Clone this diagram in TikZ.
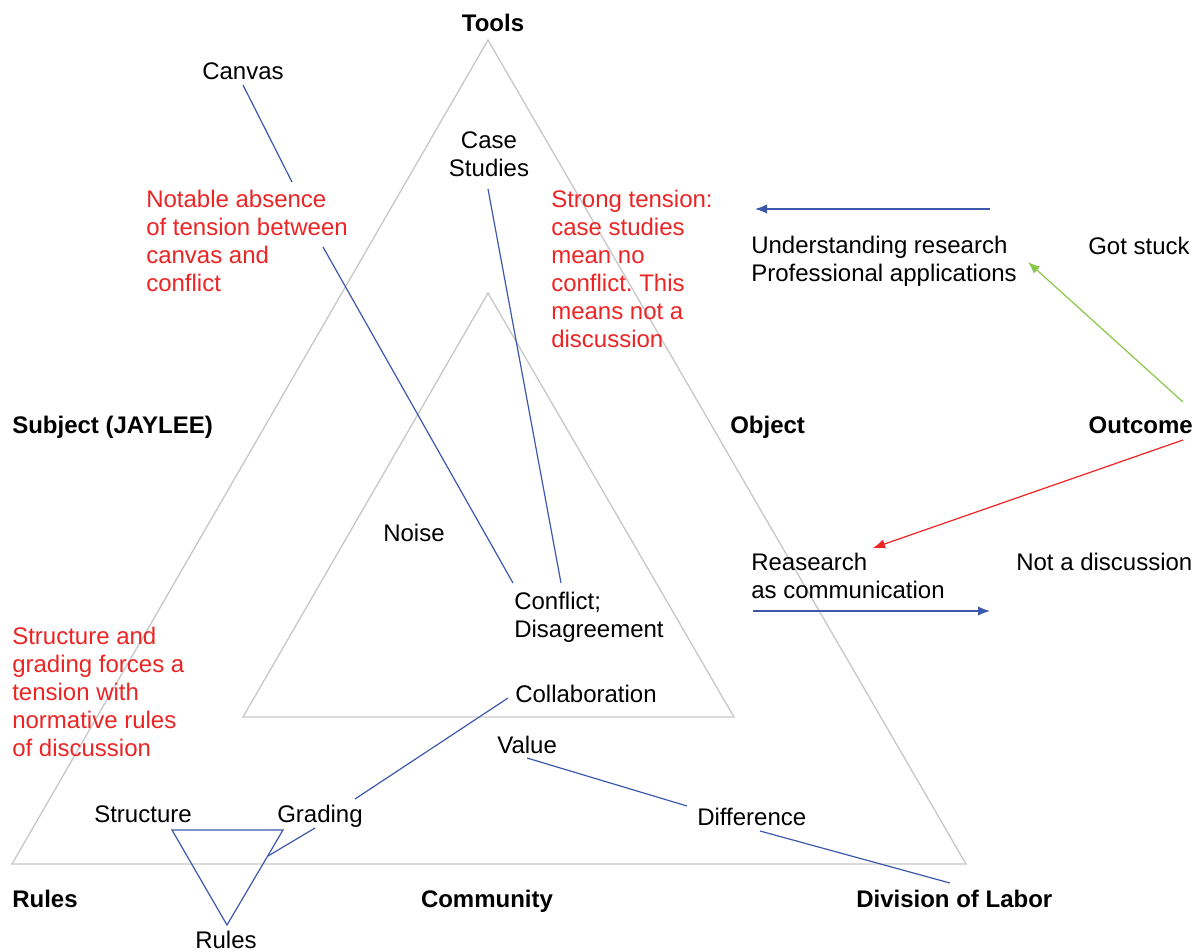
\documentclass[tikz,border=0pt]{standalone}
\usepackage{fontspec}
\setmainfont{Liberation Sans}
\usetikzlibrary{arrows.meta}
\frenchspacing
\definecolor{framegray}{RGB}{200,200,200}
\definecolor{linkblue}{RGB}{60,88,172}
\definecolor{notered}{RGB}{236,36,36}
\definecolor{limegreen}{RGB}{138,198,72}
\begin{document}
\begin{tikzpicture}[x=0.75pt,y=-0.75pt,
  lbl/.style={inner sep=0pt, font=\fontsize{18}{21}\selectfont, text=black},
  head/.style={inner sep=0pt, font=\fontsize{18}{21}\selectfont\bfseries, text=black},
  block/.style={lbl, align=left, anchor=north west},
  remark/.style={lbl, text=notered, align=left, anchor=north west},
  frameline/.style={draw=framegray, line width=1pt},
  tie/.style={draw=linkblue, line width=0.9pt},
  flow/.style={line width=0.9pt}
]
\useasboundingbox (0,0) rectangle (1197,951);

% activity-system triangles
\coordinate (outerTop) at (488,40);
\coordinate (outerLeft) at (12,864);
\coordinate (outerRight) at (966,864);
\coordinate (innerTop) at (488,293);
\coordinate (innerLeft) at (243,717);
\coordinate (innerRight) at (734,717);
\draw[frameline] (outerTop) -- (outerLeft) -- (outerRight) -- cycle;
\draw[frameline] (innerTop) -- (innerLeft) -- (innerRight) -- cycle;

% corner labels
\node[head, anchor=base] (tools) at (493,31) {Tools};
\node[head, anchor=base west] (subject) at (12,433) {Subject (JAYLEE)};
\node[head, anchor=base west] (object) at (730,433) {Object};
\node[head, anchor=base east] (outcome) at (1193,433) {Outcome};
\node[head, anchor=base west] (rulesHead) at (12,907) {Rules};
\node[head, anchor=base] (community) at (487,907) {Community};
\node[head, anchor=base west] (division) at (856,907) {Division of Labor};

% element labels
\node[lbl, anchor=base] (canvas) at (243,79) {Canvas};
\node[lbl, align=center, anchor=north] (cases) at (489,131) {Case\\Studies};
\node[block] (understanding) at (751,236) {Understanding research\\Professional applications};
\node[lbl, anchor=base west] (stuck) at (1088,254) {Got stuck};
\node[lbl, anchor=base] (noise) at (414,541) {Noise};
\node[block] (research) at (751,553) {Reasearch\\as communication};
\node[lbl, anchor=base west] (notdisc) at (1016,570) {Not a discussion};
\node[block] (conflict) at (514,592) {Conflict;\\Disagreement};
\node[lbl, anchor=base west] (collab) at (515,702) {Collaboration};
\node[lbl, anchor=base west] (value) at (497,753) {Value};
\node[lbl, anchor=base] (structure) at (143,822) {Structure};
\node[lbl, anchor=base] (grading) at (320,822) {Grading};
\node[lbl, anchor=base west] (difference) at (697,825) {Difference};
\node[lbl, anchor=base] (rulesSmall) at (226,948) {Rules};

% annotations
\node[remark] (absence) at (146,190) {Notable absence\\of tension between\\canvas and\\conflict};
\node[remark] (strong) at (551,190) {Strong tension:\\case studies\\mean no\\conflict. This\\means not a\\discussion};
\node[remark] (forces) at (12,627) {Structure and\\grading forces a\\tension with\\normative rules\\of discussion};

% connector end points
\coordinate (canvasFoot) at (243,85);
\coordinate (absenceIn) at (292,182);
\coordinate (absenceOut) at (323,247);
\coordinate (conflictA) at (513,583);
\coordinate (casesFoot) at (488,189);
\coordinate (conflictB) at (561,583);
\coordinate (collabTip) at (508,698);
\coordinate (gradingIn) at (355,799);
\coordinate (gradingOut) at (315,828);
\coordinate (rulesSide) at (268,856);
\coordinate (valueFoot) at (527,758);
\coordinate (diffHead) at (687,806);
\coordinate (diffFoot) at (760,831);
\coordinate (divisionTop) at (950,883);
\coordinate (triLeft) at (172,830);
\coordinate (triRight) at (283,830);
\coordinate (triBottom) at (227,925);

% blue ties
\draw[tie] (canvasFoot) -- (absenceIn);
\draw[tie] (absenceOut) -- (conflictA);
\draw[tie] (casesFoot) -- (conflictB);
\draw[tie] (collabTip) -- (gradingIn);
\draw[tie] (gradingOut) -- (rulesSide);
\draw[tie] (valueFoot) -- (diffHead);
\draw[tie] (diffFoot) -- (divisionTop);
\draw[tie] (triLeft) -- (triRight) -- (triBottom) -- cycle;

% arrows
\coordinate (topArrowTail) at (990,209);
\coordinate (topArrowHead) at (755,209);
\coordinate (greenTail) at (1183,402);
\coordinate (greenHead) at (1028,262);
\coordinate (redTail) at (1183,440);
\coordinate (redHead) at (873,548);
\coordinate (lowArrowTail) at (753,611);
\coordinate (lowArrowHead) at (990,611);
\draw[flow, draw=linkblue, -{Latex[length=9pt,width=7pt,color=linkblue]}] (topArrowTail) -- (topArrowHead);
\draw[flow, draw=limegreen, -{Latex[length=9pt,width=7pt,color=limegreen]}] (greenTail) -- (greenHead);
\draw[flow, draw=notered, -{Latex[length=9pt,width=7pt,color=notered]}] (redTail) -- (redHead);
\draw[flow, draw=linkblue, -{Latex[length=9pt,width=7pt,color=linkblue]}] (lowArrowTail) -- (lowArrowHead);
\end{tikzpicture}
\end{document}
